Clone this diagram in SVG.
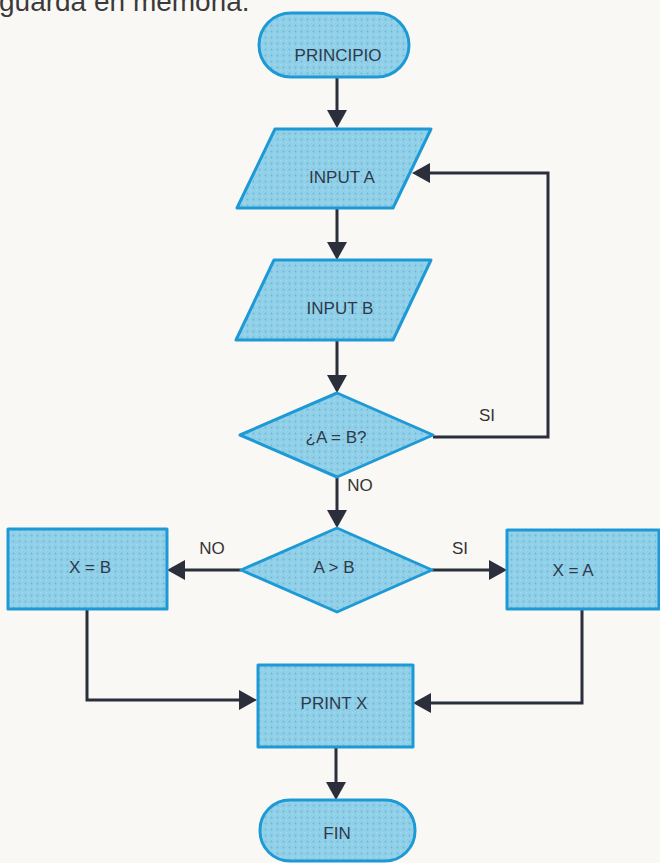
<svg xmlns="http://www.w3.org/2000/svg" width="660" height="863" viewBox="0 0 660 863">
  <defs>
    <pattern id="dots" width="6" height="6" patternUnits="userSpaceOnUse">
      <rect width="6" height="6" fill="#91d0e9"/>
      <circle cx="1.5" cy="1.5" r="0.9" fill="#72b5d2"/>
      <circle cx="4.5" cy="4.5" r="0.7" fill="#a9dbee"/>
    </pattern>
    <marker id="arrow" viewBox="0 0 18 20" markerWidth="18" markerHeight="20" refX="8" refY="10" orient="auto" markerUnits="userSpaceOnUse">
      <path d="M0,0 L18,10 L0,20 Z" fill="#2b2e3b"/>
    </marker>
    <style>
      .node { fill: url(#dots); stroke: #1d9ad6; stroke-width: 3; stroke-linejoin: round; }
      .lbl { font-family: "Liberation Sans", Arial, sans-serif; font-size: 17px; fill: #2e3a4c; text-anchor: middle; }
      .edge { fill: none; stroke: #2b2e3b; stroke-width: 3; marker-end: url(#arrow); }
      .elbl { font-family: "Liberation Sans", Arial, sans-serif; font-size: 17px; fill: #333333; text-anchor: middle; }
    </style>
  </defs>
  <rect width="660" height="863" fill="#faf8f4"/>
  <text x="-1" y="11" font-family="Liberation Sans, Arial, sans-serif" font-size="28" fill="#3a3a3a">guarda en memoria.</text>

  <g id="connectors">
    <path class="edge" d="M337,77 V118"/>
    <path class="edge" d="M337,208 V250"/>
    <path class="edge" d="M337,340 V383"/>
    <path class="edge" d="M337,477 V518"/>
    <path class="edge" d="M241,570 H177"/>
    <path class="edge" d="M432,570 H497"/>
    <path class="edge" d="M87,609 V700 H247"/>
    <path class="edge" d="M582,609 V703 H423"/>
    <path class="edge" d="M336,747 V790"/>
    <path class="edge" d="M433,437 H548 V173 H422"/>
    <text class="elbl" x="487" y="421">SI</text>
    <text class="elbl" x="360" y="491">NO</text>
    <text class="elbl" x="212" y="554">NO</text>
    <text class="elbl" x="460" y="554">SI</text>
  </g>

  <g id="principio">
    <rect class="node" x="259" y="13" width="150" height="64" rx="32" ry="32"/>
    <text class="lbl" x="338" y="61">PRINCIPIO</text>
  </g>
  <g id="input-a">
    <polygon class="node" points="275,129 431,129 393,208 237,208"/>
    <text class="lbl" x="342" y="183">INPUT A</text>
  </g>
  <g id="input-b">
    <polygon class="node" points="274,260 431,260 393,340 236,340"/>
    <text class="lbl" x="340" y="314">INPUT B</text>
  </g>
  <g id="decision-eq">
    <polygon class="node" points="337,393 433,435 337,477 240,435"/>
    <text class="lbl" x="336" y="443">¿A = B?</text>
  </g>
  <g id="decision-gt">
    <polygon class="node" points="337,528 432,570 337,612 241,570"/>
    <text class="lbl" x="334" y="573">A &gt; B</text>
  </g>
  <g id="x-eq-b">
    <rect class="node" x="8" y="529" width="159" height="80"/>
    <text class="lbl" x="90" y="573">X = B</text>
  </g>
  <g id="x-eq-a">
    <rect class="node" x="507" y="530" width="152" height="79"/>
    <text class="lbl" x="573" y="576">X = A</text>
  </g>
  <g id="print-x">
    <rect class="node" x="258" y="665" width="155" height="82"/>
    <text class="lbl" x="334" y="709">PRINT X</text>
  </g>
  <g id="fin">
    <rect class="node" x="260" y="800" width="155" height="61" rx="30" ry="30"/>
    <text class="lbl" x="337" y="839">FIN</text>
  </g>
</svg>
